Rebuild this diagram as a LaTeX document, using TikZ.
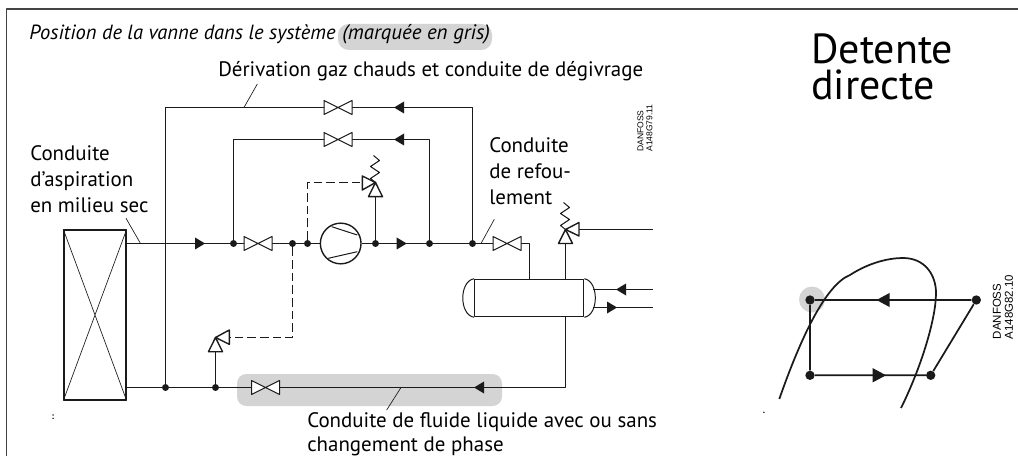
\documentclass[tikz,border=0pt]{standalone}
\usepackage{fontspec}
\setmainfont{PT Sans}
\newfontfamily\dwgfont{Liberation Sans}
\usepackage{tikz}
\tikzset{every picture/.append style={
    line join=round,
    x=.75pt,y=-.75pt
  },
  pipe/.style={line width=1.05pt,color=pipecol},
  thinpipe/.style={line width=.75pt,color=pipecol},
  pilot/.style={line width=.75pt,color=pipecol,dash pattern=on 6.5pt off 3pt},
  leader/.style={line width=.5pt,color=pipecol},
  label/.style={inner sep=0pt,anchor=base west,font=\fontsize{15.7}{19.6}\selectfont},
  dwgno/.style={inner sep=0pt,rotate=90,align=left},
  speck/.style={inner sep=0pt,font=\bfseries\fontsize{7}{7}\selectfont},
  junction/.style={circle,fill=pipecol,inner sep=0pt,minimum size=5.2pt},
  bigdot/.style={circle,fill=pipecol,inner sep=0pt,minimum size=7pt},
  valve/.pic={\draw [thinpipe,fill=white] (-14,-7) -- (14,7) -- (14,-7) -- (-14,7) -- cycle;},
  flowr/.pic={\fill [pipecol] (-5,-6) -- (5,0) -- (-5,6) -- cycle;},
  flowl/.pic={\fill [pipecol] (5,-6) -- (-5,0) -- (5,6) -- cycle;},
  spring/.pic={\draw [thinpipe] (0,0) -- (-5,-4) -- (4,-10) -- (-5,-16) -- (4,-22) -- (-2,-27);}
}
\definecolor{pipecol}{HTML}{1A1A1A}
\definecolor{markgrey}{HTML}{D4D4D4}
\definecolor{framecol}{HTML}{444444}

\begin{document}
\begin{tikzpicture}
        \useasboundingbox (0,0) rectangle (1018,456);
        \fill [white] (0,0) rectangle (1018,456);
        \draw [framecol,line width=1.4pt] (1018,9) -- (6.5,9) -- (6.5,456);
        % grey marks
        \fill [markgrey,rounded corners=8pt] (338,24) rectangle (492,50);
        \fill [markgrey,rounded corners=7pt] (237,374) rectangle (502,406);
        \fill [markgrey] (812,299.5) circle (13);
        % texts
        \node [label,font=\fontsize{15.4}{19.6}\selectfont] (title) at (29,40) {\itshape Position de la vanne dans le système};
        \node [label] (marked) at (342,40) {\itshape (marquée en gris)};
        \node [label] (hotgas) at (218,77) {Dérivation gaz chauds et conduite de dégivrage};
        \node [label,align=left,anchor=north west] (suction) at (30,145.5) {Conduite\\d'aspiration\\en milieu sec};
        \node [label,align=left,anchor=north west] (discharge) at (489,137.5) {Conduite\\de refou-\\lement};
        \node [label,align=left,anchor=north west] (liquid) at (307,412) {Conduite de fluide liquide avec ou sans\\[-1pt]changement de phase};
        \node [inner sep=0pt,anchor=north west,align=left,font=\fontsize{31.5}{27.5}\selectfont] (system) at (811,33) {Detente\\directe};
        \node [dwgno,anchor=center,font=\dwgfont\fontsize{6.4}{6.8}\selectfont] (dwga) at (645,128) {DANFOSS\\A148G79.11};
        \node [dwgno,anchor=center,font=\dwgfont\fontsize{8.6}{9}\selectfont] (dwgb) at (1003,307) {DANFOSS\\A148G82.10};
        \node [speck] (specka) at (53,417) {:};
        \node [speck] (speckb) at (764,413) {.};
        % coil
        \node [draw=pipecol,line width=1.05pt,fill=white,minimum width=46.5pt,minimum height=127.5pt,inner sep=0pt] (coil) at (95,315) {};
        \draw [thinpipe,line width=.5pt] (coil.north west) -- (coil.south east) (coil.north east) -- (coil.south west);
        % receiver
        \node [draw=pipecol,line width=.9pt,minimum width=81.75pt,minimum height=28pt,inner sep=0pt] (recv) at (529.2,298) {};
        \draw [thinpipe] (recv.north west) .. controls (459,281) and (459,315) .. (recv.south west);
        \draw [thinpipe] (recv.north east) .. controls (599,281) and (599,315) .. (recv.south east);
        % points on the lines
        \coordinate (suc0) at (coil.east |- 0,243.5);
        \coordinate (liq0) at (coil.east |- 0,387.5);
        \node [junction] (j1) at (165.5,387.5) {};
        \node [junction] (j2) at (215.5,387.5) {};
        \node [junction] (j3) at (233.5,243.5) {};
        \node [junction] (j4) at (292.5,243.5) {};
        \node [junction] (j5) at (307.5,243.5) {};
        \node [junction] (j6) at (375.5,243.5) {};
        \node [junction] (j7) at (429.5,243.5) {};
        \node [junction] (j8) at (472.5,243.5) {};
        \node [circle,draw=pipecol,line width=1.05pt,fill=white,minimum size=30.5pt,inner sep=0pt] (comp) at (340.7,243.5) {};
        \draw [thinpipe] (331.7,226.7) -- (357.3,235);
        \draw [thinpipe] (328.3,258.3) -- (357.3,251.7);
        \coordinate (h1) at (165.5,107.5);
        \coordinate (h2) at (472.5,107.5);
        \coordinate (b1) at (233.5,139.5);
        \coordinate (b2) at (429.5,139.5);
        \coordinate (d1) at (529.5,243.5);
        \coordinate (d2) at (529.5,279);
        \coordinate (l1) at (565.5,387.5);
        \coordinate (r1) at (593,289.5);
        \coordinate (r2) at (653,289.5);
        \coordinate (r3) at (593,307.5);
        \coordinate (r4) at (653,307.5);
        \coordinate (g1) at (565.5,279);
        \coordinate (g2) at (565.5,229.5);
        \coordinate (g3) at (653,229.5);
        \coordinate (p1) at (307.5,182.5);
        \coordinate (p2) at (375.5,182.5);
        \coordinate (q1) at (292.5,337.5);
        \coordinate (q2) at (215.5,337.5);
        % pipes
        \draw [pipe] (suc0) -- (j3) -- (j4) -- (j5) -- (comp);
        \draw [pipe] (comp) -- (j6) -- (j7) -- (j8) -- (d1) -- (d2);
        \draw [pipe] (j8) -- (h2) -- (h1) -- (j1);
        \draw [pipe] (j7) -- (b2) -- (b1) -- (j3);
        \draw [pipe] (liq0) -- (j1) -- (j2) -- (l1) -- (recv.south -| l1);
        \draw [pipe] (j6) -- (375.5,196.7);
        \draw [pipe] (j2) -- (215.5,351.7);
        \draw [pipe] (g1) -- (g2);
        \draw [pipe] (579,229.5) -- (g3);
        \draw [pipe] (r1) -- (r2);
        \draw [pipe] (r3) -- (r4);
        % pilot lines
        \draw [pilot] (j5) -- (p1) -- (p2);
        \draw [pilot] (j4) -- (q1) -- (q2);
        % valves
        \path (338,107.5) pic {valve};
        \path (338,139.5) pic {valve};
        \path (258,243.5) pic {valve};
        \path (507,243.5) pic {valve};
        \path (265.5,387.5) pic {valve};
        % flow marks
        \path (399,107.5) pic {flowl};
        \path (399,139.5) pic {flowl};
        \path (200,243.5) pic {flowr};
        \path (401.7,243.5) pic {flowr};
        \path (479,387.5) pic {flowl};
        \path (621,289.5) pic {flowl};
        \path (612,307.5) pic {flowr};
        % pilot valves
        \draw [pipe,fill=white] (375.5,182.5) -- (368.5,196.7) -- (382.5,196.7) -- cycle;
        \draw [pipe,fill=white] (375.5,182.5) -- (362.3,176) -- (362.3,190) -- cycle;
        \path (375.5,182.5) pic {spring};
        \draw [pipe,fill=white] (565.5,229.5) -- (558.5,243.5) -- (572.5,243.5) -- cycle;
        \draw [pipe,fill=white] (565.5,229.5) -- (579,222.5) -- (579,236) -- cycle;
        \path (565.5,229.5) pic {spring};
        \draw [pipe,fill=white] (215.5,337.5) -- (208.5,351.7) -- (222.5,351.7) -- cycle;
        \draw [pipe,fill=white] (215.5,337.5) -- (229.3,330) -- (229.3,344.3) -- cycle;
        % leaders
        \draw [leader] (257.3,84) -- (244,107.5);
        \draw [leader] (126,218.3) -- (140.5,243.5);
        \draw [leader] (494.3,219.3) -- (481,243.5);
        \draw [leader] (401,387.5) -- (386.7,410);
        % cycle diagram
        \node [bigdot] (c1) at (810,300) {};
        \node [bigdot] (c2) at (976.3,300) {};
        \node [bigdot] (c3) at (810,375.3) {};
        \node [bigdot] (c4) at (930.7,375.3) {};
        \draw [pipe,line width=1.3pt] (c1) -- (c2) -- (c4) -- (c3) -- (c1);
        \fill [pipecol] (876.5,300) -- (889.5,293) -- (889.5,307) -- cycle;
        \fill [pipecol] (886,375.3) -- (872.5,368) -- (872.5,382.5) -- cycle;
        \draw [pipecol,line width=1.3pt] (779.3,399) .. controls (800,340) and (825,285) .. (850,275) .. controls (870,262) and (890,258) .. (903,258) .. controls (925,258) and (936,275) .. (936,293) .. controls (936,320) and (920,370) .. (901,408);
    \end{tikzpicture}
\end{document}
